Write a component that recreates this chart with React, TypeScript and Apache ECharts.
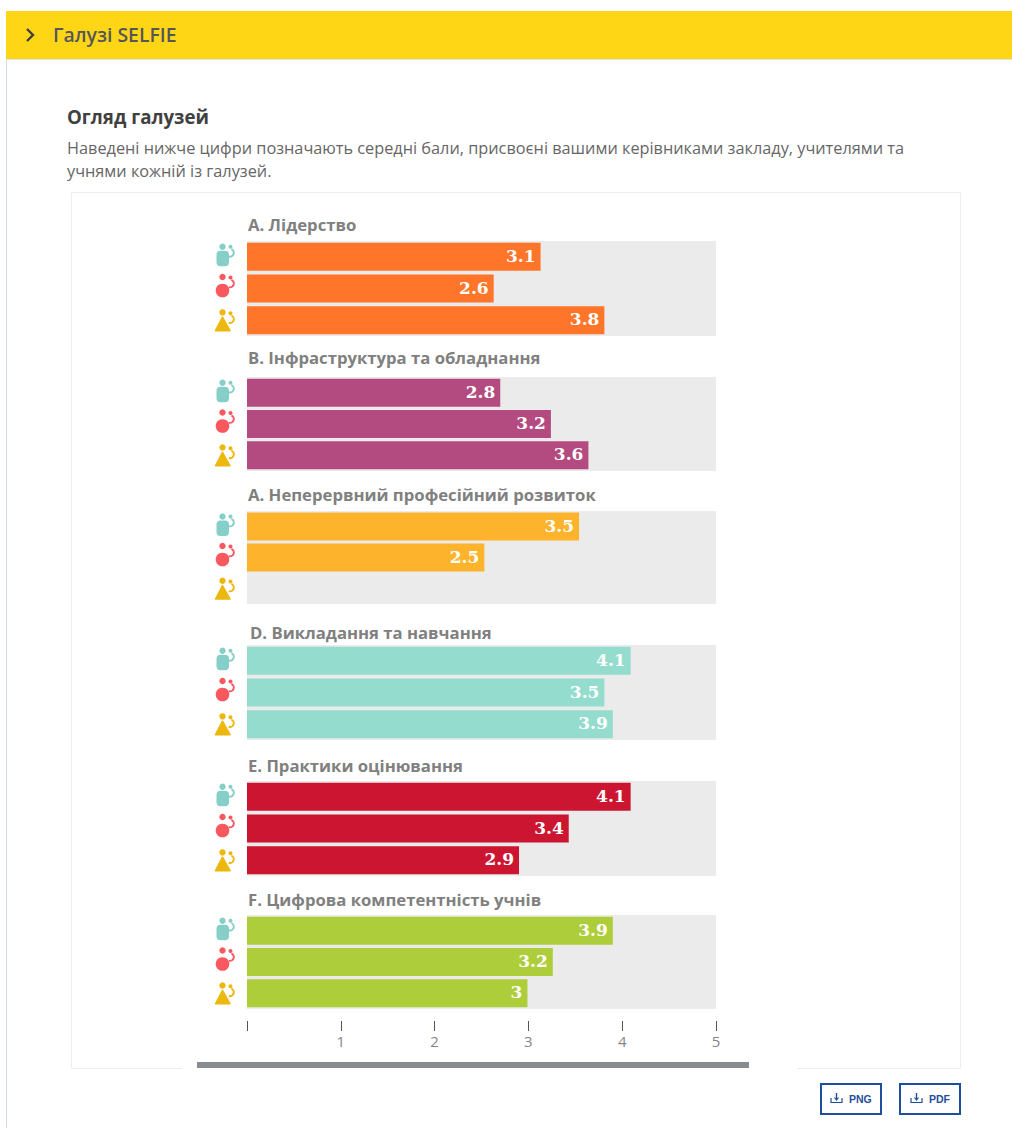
import React, { useEffect, useRef } from "react";
import * as echarts from "echarts";

const PAGE_W = 1012;
const PAGE_H = 1128;

const headerTitle = "Галузі SELFIE";
const sectionTitle = "Огляд галузей";
const introLines = [
  "Наведені нижче цифри позначають середні бали, присвоєні вашими керівниками закладу, учителями та",
  "учнями кожній із галузей.",
];

const groupNames = [
  "А. Лідерство",
  "В. Інфраструктура та обладнання",
  "А. Неперервний професійний розвиток",
  "D. Викладання та навчання",
  "Е. Практики оцінювання",
  "F. Цифрова компетентність учнів",
];
const roles = ["Керівники", "Учителі", "Учні"];
const groupColors = ["#ff7529", "#b34b80", "#fdb32b", "#94dccd", "#cc1530", "#aecd3b"];

// Bar lengths as drawn in the picture
const barsA = [3.13, 2.63, 3.81];
const barsB = [2.7, 3.24, 3.64];
const barsC = [3.54, 2.53, null];
const barsD = [4.09, 3.81, 3.9];
const barsE = [4.09, 3.43, 2.9];
const barsF = [3.9, 3.26, 2.99];
const groupBars = [barsA, barsB, barsC, barsD, barsE, barsF];

// Labels as printed on the bars
const labelsA = ["3.1", "2.6", "3.8"];
const labelsB = ["2.8", "3.2", "3.6"];
const labelsC = ["3.5", "2.5", ""];
const labelsD = ["4.1", "3.5", "3.9"];
const labelsE = ["4.1", "3.4", "2.9"];
const labelsF = ["3.9", "3.2", "3"];
const groupLabels = [labelsA, labelsB, labelsC, labelsD, labelsE, labelsF];

const gridTops = [241, 377, 511, 645, 781, 915];
const gridHeights = [95, 94, 93, 95, 95, 94];
const headingY = [224, 357, 494, 632, 765, 899];
const headingX = [248, 248, 248, 250, 248, 248];

const GRID_LEFT = 247;
const GRID_W = 469;
const UI_FONT = '"Open Sans", "Noto Sans", sans-serif';

function txt(text: string, x: number, y: number, font: string, fill: string, align = "left") {
  return {
    type: "text",
    silent: true,
    style: { text, x, y, font, fill, align, verticalAlign: "middle" },
  };
}

function smallFigure(cx: number, cy: number, color: string) {
  return [
    { type: "circle", silent: true, shape: { cx, cy: cy - 10, r: 2 }, style: { fill: color } },
    {
      type: "arc",
      silent: true,
      shape: { cx: cx - 0.5, cy: cy - 4, r: 3.8, startAngle: -1.2, endAngle: 1.9, clockwise: true },
      style: { fill: "none", stroke: color, lineWidth: 2 },
    },
  ];
}

function roleIcon(role: number, rowCy: number): any[] {
  const x = 222.5;
  if (role === 0) {
    const c = "#86cfc9";
    return [
      { type: "circle", silent: true, shape: { cx: x, cy: rowCy - 10, r: 3.2 }, style: { fill: c } },
      { type: "rect", silent: true, shape: { x: 216.5, y: rowCy - 6, width: 12.5, height: 15.5, r: 4 }, style: { fill: c } },
      ...smallFigure(230.5, rowCy, c),
    ];
  }
  if (role === 1) {
    const c = "#f9585f";
    return [
      { type: "circle", silent: true, shape: { cx: x, cy: rowCy - 11.5, r: 3.2 }, style: { fill: c } },
      { type: "circle", silent: true, shape: { cx: x, cy: rowCy + 2, r: 6.8 }, style: { fill: c } },
      ...smallFigure(230.5, rowCy - 1, c),
    ];
  }
  const c = "#ecb80f";
  return [
    { type: "circle", silent: true, shape: { cx: x, cy: rowCy - 7.8, r: 3.2 }, style: { fill: c } },
    {
      type: "polygon",
      silent: true,
      shape: { points: [[x, rowCy - 3], [230, rowCy + 10.5], [215.5, rowCy + 10.5]] },
      style: { fill: c, stroke: c, lineWidth: 1.5, lineJoin: "round" },
    },
    ...smallFigure(230.5, rowCy + 3, c),
  ];
}

function downloadIcon(x: number, y: number, color: string): any[] {
  return [
    { type: "polyline", silent: true, shape: { points: [[x, y + 5], [x, y + 9.5], [x + 11, y + 9.5], [x + 11, y + 5]] }, style: { fill: "none", stroke: color, lineWidth: 1.2 } },
    { type: "line", silent: true, shape: { x1: x + 5.5, y1: y, x2: x + 5.5, y2: y + 6.5 }, style: { stroke: color, lineWidth: 1.4 } },
    { type: "polyline", silent: true, shape: { points: [[x + 3.5, y + 4.5], [x + 5.5, y + 7], [x + 7.5, y + 4.5]] }, style: { fill: "none", stroke: color, lineWidth: 1.2 } },
  ];
}

function buildOption(): any {
  const BLUE = "#1f4e9c";
  const BORDER = "#eeeeee";
  const graphic: any[] = [
    { type: "rect", silent: true, shape: { x: 6, y: 11, width: 1006, height: 48 }, style: { fill: "#ffd616" } },
    { type: "line", silent: true, shape: { x1: 6, y1: 59.5, x2: 1012, y2: 59.5 }, style: { stroke: "#dfe5ea", lineWidth: 1 } },
    { type: "line", silent: true, shape: { x1: 6.5, y1: 60, x2: 6.5, y2: 1128 }, style: { stroke: "#cfe0f2", lineWidth: 1 } },
    { type: "polyline", silent: true, shape: { points: [[27, 29], [33, 35], [27, 41]] }, style: { fill: "none", stroke: "#3f3f3f", lineWidth: 2.4 } },
    txt(headerTitle, 53, 34, `600 19.4px ${UI_FONT}`, "#55565a"),
    txt(sectionTitle, 67, 116, `700 18.7px ${UI_FONT}`, "#404040"),
    txt(introLines[0], 67, 148, `400 16.3px ${UI_FONT}`, "#666666"),
    txt(introLines[1], 67, 171, `400 16.3px ${UI_FONT}`, "#666666"),
    { type: "polyline", silent: true, shape: { points: [[182, 1068.5], [71.5, 1068.5], [71.5, 192.5], [960.5, 192.5], [960.5, 1068.5], [797, 1068.5]] }, style: { fill: "none", stroke: BORDER, lineWidth: 1 } },
    { type: "rect", silent: true, shape: { x: 197, y: 1062, width: 552, height: 6 }, style: { fill: "#888c90" } },
    { type: "rect", silent: true, shape: { x: 821, y: 1084, width: 60, height: 30 }, style: { fill: "#fff", stroke: BLUE, lineWidth: 2 } },
    { type: "rect", silent: true, shape: { x: 900, y: 1084, width: 60, height: 30 }, style: { fill: "#fff", stroke: BLUE, lineWidth: 2 } },
    ...downloadIcon(831, 1093, BLUE),
    ...downloadIcon(911, 1093, BLUE),
    txt("PNG", 849, 1099, '700 10.5px "Liberation Sans", sans-serif', BLUE),
    txt("PDF", 929, 1099, '700 10.5px "Liberation Sans", sans-serif', BLUE),
  ];

  groupNames.forEach((name, g) => {
    graphic.push(txt(name, headingX[g], headingY[g], `700 16.7px ${UI_FONT}`, "#808080"));
    const band = gridHeights[g] / roles.length;
    roles.forEach((_, r) => {
      graphic.push(...roleIcon(r, gridTops[g] + band * (r + 0.5)));
    });
  });

  const last = groupNames.length - 1;
  return {
    animation: false,
    backgroundColor: "#ffffff",
    tooltip: { show: false },
    graphic,
    grid: groupNames.map((_, g) => ({
      show: true,
      left: GRID_LEFT,
      width: GRID_W,
      top: gridTops[g],
      height: gridHeights[g],
      backgroundColor: "#ebebeb",
      borderWidth: 0,
      containLabel: false,
    })),
    xAxis: groupNames.map((_, g) => ({
      type: "value",
      gridIndex: g,
      min: 0,
      max: 5,
      interval: 1,
      show: g === last,
      offset: 12,
      position: "bottom",
      splitLine: { show: false },
      axisLine: { show: false },
      axisTick: { show: true, length: 10, inside: false, lineStyle: { color: "#555555", width: 1 } },
      axisLabel: {
        show: true,
        margin: 12,
        color: "#858585",
        fontFamily: UI_FONT,
        fontSize: 15,
        formatter: (v: number) => (v === 0 ? "" : String(v)),
      },
    })),
    yAxis: groupNames.map((_, g) => ({
      type: "category",
      gridIndex: g,
      inverse: true,
      data: roles,
      show: false,
    })),
    series: groupNames.map((name, g) => ({
      type: "bar",
      name,
      xAxisIndex: g,
      yAxisIndex: g,
      barWidth: 28,
      data: groupBars[g],
      itemStyle: { color: groupColors[g] },
      label: {
        show: true,
        position: "insideRight",
        distance: 5,
        offset: [0, -1],
        color: "#ffffff",
        fontFamily: '"DejaVu Serif", serif',
        fontWeight: "bold",
        fontSize: 17,
        formatter: (p: any) => groupLabels[g][p.dataIndex] ?? "",
      },
    })),
  };
}

export default function App() {
  const ref = useRef<HTMLDivElement>(null);
  useEffect(() => {
    if (!ref.current) return;
    const chart = echarts.init(ref.current, undefined, { renderer: "svg" });
    chart.setOption(buildOption());
    return () => chart.dispose();
  }, []);
  return (
    <div
      ref={ref}
      style={{ position: "absolute", left: 0, top: 0, width: PAGE_W, height: PAGE_H }}
    />
  );
}
